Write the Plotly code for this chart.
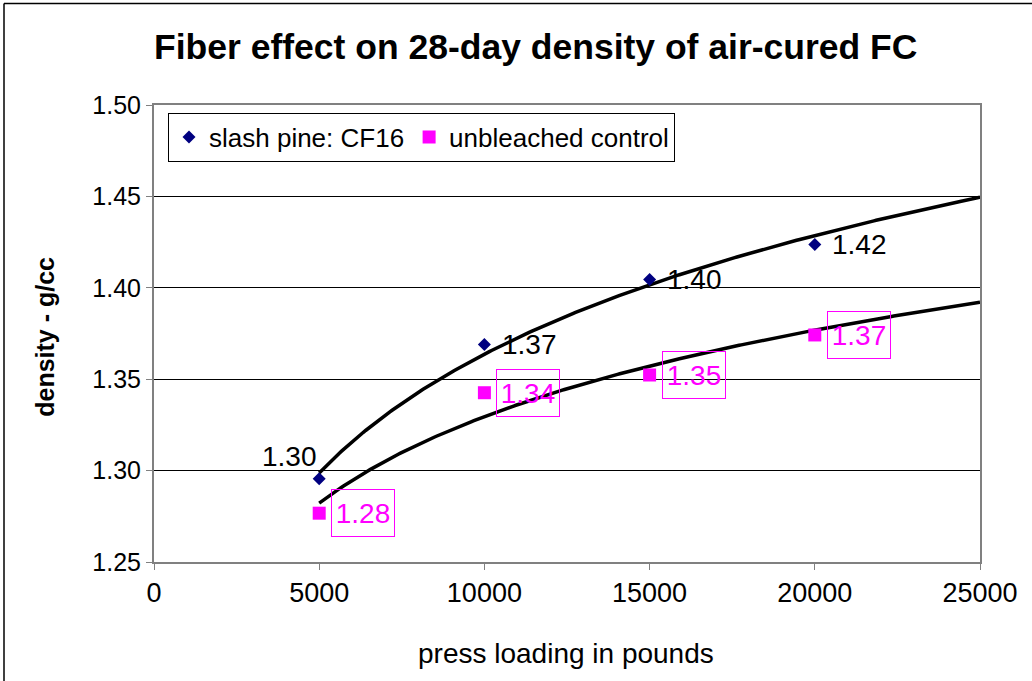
import numpy as np
import plotly.graph_objects as go

# ---- data ----
press_load = [5000, 10000, 15000, 20000]
slash_pine = [1.2955, 1.369, 1.4045, 1.4237]
unbleached = [1.2767, 1.3426, 1.3523, 1.3742]
series_names = ["slash pine: CF16", "unbleached control"]
x_ticks = [0, 5000, 10000, 15000, 20000, 25000]
y_ticks = [1.25, 1.30, 1.35, 1.40, 1.45, 1.50]
trend_end = 25000

FONT = "Liberation Sans, Arial, sans-serif"
NAVY = "#000080"
MAG = "#FF00FF"

fig = go.Figure()

# logarithmic trendlines (least-squares fit on ln(x))
xt = np.linspace(press_load[0], trend_end, 300)
for ys in (slash_pine, unbleached):
    a, b = np.polyfit(np.log(press_load), ys, 1)
    fig.add_trace(go.Scatter(x=xt, y=a * np.log(xt) + b, mode="lines",
                             line=dict(color="black", width=3.5),
                             showlegend=False, hoverinfo="skip"))

fig.add_trace(go.Scatter(x=press_load, y=slash_pine, mode="markers", name=series_names[0],
                         marker=dict(symbol="diamond", size=10, color=NAVY)))
fig.add_trace(go.Scatter(x=press_load, y=unbleached, mode="markers", name=series_names[1],
                         marker=dict(symbol="square", size=13, color=MAG)))

ann = []
for i, (x, y) in enumerate(zip(press_load, slash_pine)):
    if i == 0:
        xs, ysft = -30, 22
    else:
        xs, ysft = 45, 0
    ann.append(dict(x=x, y=y, xref="x", yref="y", text=f"{y:.2f}", showarrow=False,
                    xshift=xs, yshift=ysft, xanchor="center", yanchor="middle",
                    font=dict(family=FONT, size=28, color="black")))
for x, y in zip(press_load, unbleached):
    ann.append(dict(x=x, y=y, xref="x", yref="y", text=f"{y:.2f}", showarrow=False,
                    xshift=44, yshift=0, xanchor="center", yanchor="middle",
                    width=60, height=44, borderpad=1, borderwidth=1, bordercolor=MAG,
                    font=dict(family=FONT, size=28, color=MAG)))

# titles
ann.append(dict(text="<b>Fiber effect on 28-day density of air-cured FC</b>", xref="paper", yref="paper",
                x=(535 - 154) / 826, y=(562 - 48) / 456.5, showarrow=False,
                xanchor="center", yanchor="middle", font=dict(family=FONT, size=35.5, color="black")))
ann.append(dict(text="press loading in pounds", xref="paper", yref="paper",
                x=(566 - 154) / 826, y=(562 - 653) / 456.5, showarrow=False,
                xanchor="center", yanchor="middle", font=dict(family=FONT, size=28, color="black")))
ann.append(dict(text="<b>density - g/cc</b>", xref="paper", yref="paper", textangle=-90,
                x=(45 - 154) / 826, y=(562 - 337) / 456.5, showarrow=False,
                xanchor="center", yanchor="middle", font=dict(family=FONT, size=25, color="black")))

fig.update_layout(
    width=1032, height=681,
    margin=dict(l=154, r=52, t=105, b=119, pad=0),
    paper_bgcolor="white", plot_bgcolor="white",
    font=dict(family=FONT, size=26, color="black"),
    showlegend=True,
    legend=dict(orientation="h", x=(168 - 154) / 826, y=(562 - 113) / 456.5,
                xanchor="left", yanchor="top", bgcolor="white",
                bordercolor="black", borderwidth=1,
                font=dict(family=FONT, size=26, color="black"),
                itemwidth=30, tracegroupgap=0),
    annotations=ann,
    shapes=[
        dict(type="line", xref="paper", yref="paper", x0=(4 - 154) / 826, x1=(4 - 154) / 826,
             y0=-0.5, y1=(562 - 4) / 456.5, line=dict(color="black", width=1.5)),
        dict(type="line", xref="paper", yref="paper", x0=(4 - 154) / 826, x1=1.2,
             y0=(562 - 4) / 456.5, y1=(562 - 4) / 456.5, line=dict(color="black", width=1.5)),
    ],
)

fig.update_xaxes(range=[0, 25000], tickvals=x_ticks, ticktext=[str(v) for v in x_ticks],
                 showgrid=False, zeroline=False, showline=True, linecolor="#808080", linewidth=2,
                 mirror=True, ticks="outside", ticklen=6, tickcolor="#808080",
                 tickfont=dict(family=FONT, size=27, color="black"))
fig.update_yaxes(range=[1.25, 1.50], tickvals=y_ticks, ticktext=[f"{v:.2f}" for v in y_ticks],
                 showgrid=True, gridcolor="black", gridwidth=1, zeroline=False,
                 showline=True, linecolor="#808080", linewidth=2, mirror=True,
                 ticks="outside", ticklen=6, tickcolor="#808080",
                 tickfont=dict(family=FONT, size=25, color="black"))

fig.write_html("out.html", config={"displayModeBar": False},
               post_script="document.body.style.margin='0';document.body.style.overflow='hidden';")
